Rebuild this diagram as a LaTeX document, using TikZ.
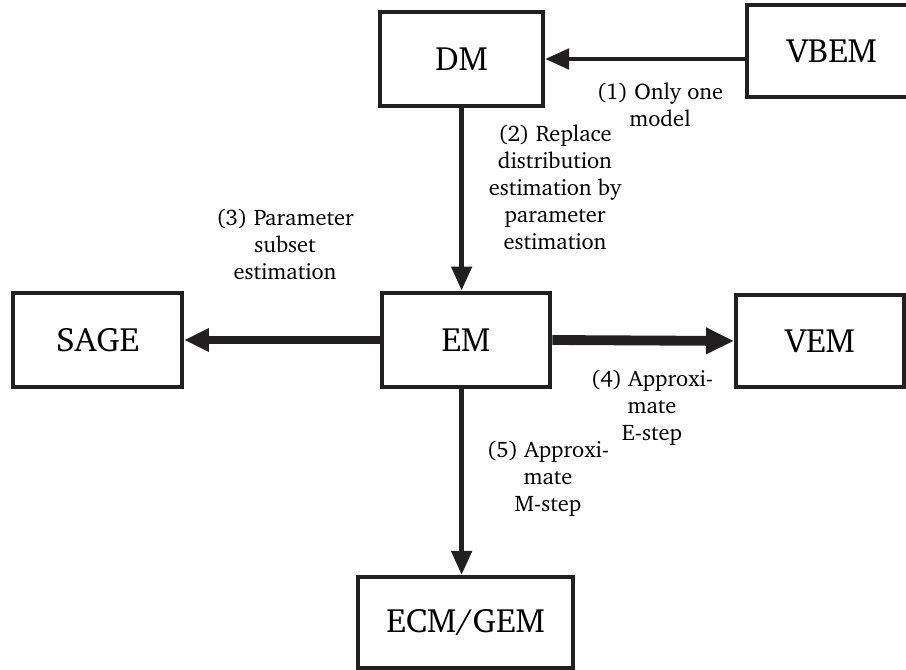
\documentclass[tikz,border=0pt]{standalone}
\usepackage[T1]{fontenc}
\usepackage{charter}
\usepackage{tikz}
\usetikzlibrary{arrows.meta,positioning}
\usepackage{xcolor}
\definecolor{lineblack}{HTML}{231F20}

\begin{document}
\begin{tikzpicture}[
    algbox/.style={draw=lineblack, line width=2.8pt, fill=white,
        font=\fontsize{24pt}{28pt}\selectfont, inner sep=0pt},
    steplabel/.style={align=center, font=\fontsize{16pt}{19.2pt}\selectfont},
    flow/.style={draw=lineblack, line width=3.5pt,
        -{Triangle[length=6mm, width=5mm]}}
]
    % 画布范围
    \useasboundingbox (0, 0) rectangle (22.65, 16.75);

    % 算法框
    \node[algbox, minimum width=4.075cm, minimum height=2.35cm] (DM) at (11.54, 15.275) {DM};
    \node[algbox, minimum width=4.25cm, minimum height=2.3cm] (VBEM) at (20.8, 15.475) {VBEM};
    \node[algbox, line width=3.5pt, minimum width=4.2cm, minimum height=2.35cm] (EM) at (11.65, 8.25) {EM};
    \node[algbox, minimum width=4.225cm, minimum height=2.35cm] (SAGE) at (2.44, 8.25) {SAGE};
    \node[algbox, minimum width=4.2cm, minimum height=2.3cm] (VEM) at (20.5, 8.225) {VEM};
    \node[algbox, minimum width=5.375cm, minimum height=2.275cm] (ECM) at (11.64, 1.19) {ECM/GEM};

    % 箭头
    \draw[flow] (VBEM.west |- DM.east) -- (DM.east);
    \draw[flow] (DM.south) -- (DM.south |- EM.north);
    \draw[flow, line width=5pt, -{Triangle[length=6.2mm, width=5.5mm]}] (EM.west) -- (SAGE.east);
    \draw[flow, line width=7pt, -{Triangle[length=7mm, width=6.2mm]}] (EM.east) -- (VEM.west);
    \draw[flow] (DM.south |- EM.south) -- (DM.south |- ECM.north);

    % 箭头说明
    \node[steplabel] (l1) at (16.5, 14.125) {(1) Only one\\model};
    \node[steplabel] (l2) at (13.875, 12.075) {(2) Replace\\distribution\\estimation by\\parameter\\estimation};
    \node[steplabel] (l3) at (7.125, 10.625) {(3) Parameter\\subset\\estimation};
    \node[steplabel] (l4) at (16.3, 6.55) {(4) Approxi-\\mate\\E-step};
    \node[steplabel] (l5) at (13.7, 4.775) {(5) Approxi-\\mate\\M-step};
\end{tikzpicture}
\end{document}
